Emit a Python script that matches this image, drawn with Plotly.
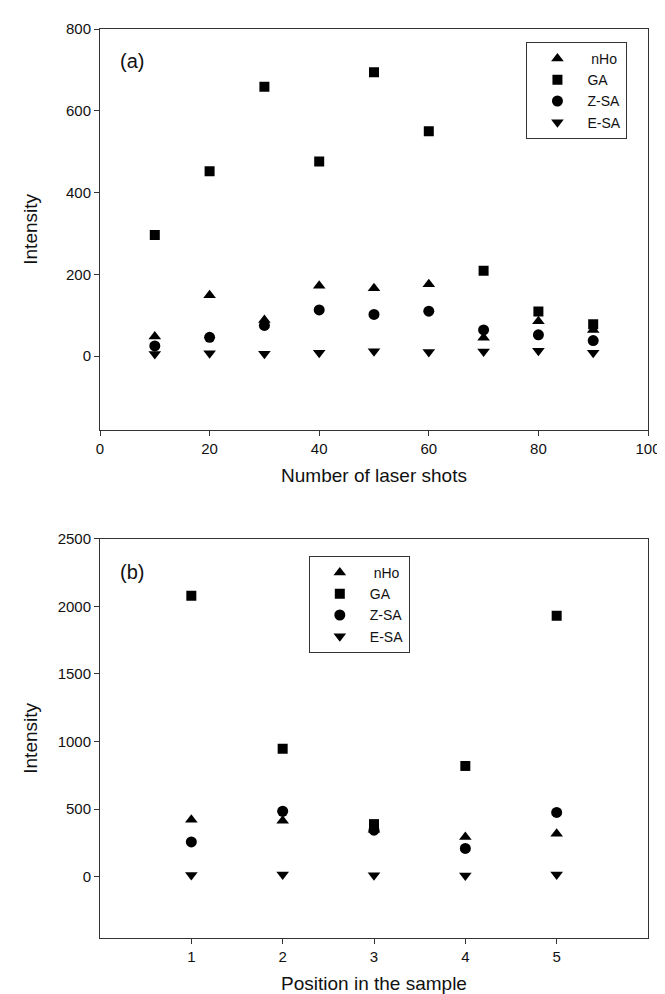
import plotly.graph_objects as go

# ---- data panel (a) ----
shots = [10, 20, 30, 40, 50, 60, 70, 80, 90]
a_nHo = [48, 149, 88, 172, 166, 176, 45, 85, 64]
a_GA = [296, 452, 659, 476, 694, 550, 209, 109, 78]
a_ZSA = [25, 46, 75, 113, 102, 110, 64, 52, 38]
a_ESA = [5, 7, 6, 8, 12, 10, 11, 13, 8]

# ---- data panel (b) ----
positions = [1, 2, 3, 4, 5]
b_nHo = [422, 415, 348, 294, 319]
b_GA = [2078, 947, 390, 820, 1930]
b_ZSA = [258, 485, 345, 210, 476]
b_ESA = [14, 18, 12, 10, 18]

series_names = ["\u00a0nHo", "GA", "Z-SA", "E-SA"]

FONT = "Liberation Sans, Arial, sans-serif"
styles = [("triangle-up", 11), ("square", 10), ("circle", 11), ("triangle-down", 11)]

fig = go.Figure()

for name, (sym, sz), ys in zip(series_names, styles, [a_nHo, a_GA, a_ZSA, a_ESA]):
    fig.add_trace(go.Scatter(x=shots, y=ys, mode="markers", name=name,
                             marker=dict(symbol=sym, size=sz, color="black"),
                             xaxis="x", yaxis="y", legend="legend"))
for name, (sym, sz), ys in zip(series_names, styles, [b_nHo, b_GA, b_ZSA, b_ESA]):
    fig.add_trace(go.Scatter(x=positions, y=ys, mode="markers", name=name,
                             marker=dict(symbol=sym, size=sz, color="black"),
                             xaxis="x2", yaxis="y2", legend="legend2"))

W, H = 665, 994
ml, mr, mt, mb = 92, 14, 21, 64
ph = H - mt - mb
pw = W - ml - mr

def py(p):
    return (H - mb - p) / ph

def px(p):
    return (p - ml) / pw

axis_common = dict(showline=True, mirror=True, linecolor="#333", linewidth=1,
                   ticks="outside", ticklen=5, tickcolor="#333", showgrid=False,
                   zeroline=False, tickfont=dict(family=FONT, size=15, color="#111"))

title_font = dict(family=FONT, size=19, color="#111")
legend_common = dict(xanchor="left", yanchor="top", bordercolor="#333", borderwidth=1,
                     bgcolor="white", font=dict(family=FONT, size=14, color="#111"),
                     itemwidth=50, entrywidth=62, entrywidthmode="pixels")

fig.update_layout(
    width=W, height=H,
    margin=dict(l=ml, r=mr, t=mt, b=mb),
    paper_bgcolor="white", plot_bgcolor="white",
    font=dict(family=FONT, color="#111"),
    xaxis=dict(domain=[0, 1], anchor="y", range=[0, 100], tickvals=[0, 20, 40, 60, 80, 100],
               title=dict(text="Number of laser shots", font=title_font, standoff=12),
               **axis_common),
    yaxis=dict(domain=[py(421.7), 1], anchor="x", range=[-180, 800],
               tickvals=[0, 200, 400, 600, 800], **axis_common),
    xaxis2=dict(domain=[0, 1], anchor="y2", range=[0, 6], tickvals=[1, 2, 3, 4, 5],
                title=dict(text="Position in the sample", font=title_font, standoff=12),
                **axis_common),
    yaxis2=dict(domain=[0, py(530.7)], anchor="x2", range=[-452, 2500],
                tickvals=[0, 500, 1000, 1500, 2000, 2500], **axis_common),
    legend=dict(x=px(527), y=py(34), **legend_common),
    legend2=dict(x=px(305), y=py(548), **legend_common),
    annotations=[
        dict(text="(a)", xref="x domain", yref="y domain", x=0.0335, y=0.921,
             xanchor="left", yanchor="middle", showarrow=False,
             font=dict(family=FONT, size=20, color="#111")),
        dict(text="(b)", xref="x2 domain", yref="y2 domain", x=0.0335, y=0.9166,
             xanchor="left", yanchor="middle", showarrow=False,
             font=dict(family=FONT, size=20, color="#111")),
        dict(text="Intensity", xref="paper", yref="y domain", x=px(21), y=0.5,
             xanchor="center", yanchor="middle", textangle=-90, showarrow=False,
             font=title_font),
        dict(text="Intensity", xref="paper", yref="y2 domain", x=px(21), y=0.5,
             xanchor="center", yanchor="middle", textangle=-90, showarrow=False,
             font=title_font),
    ],
)

fig.write_html("out.html")
